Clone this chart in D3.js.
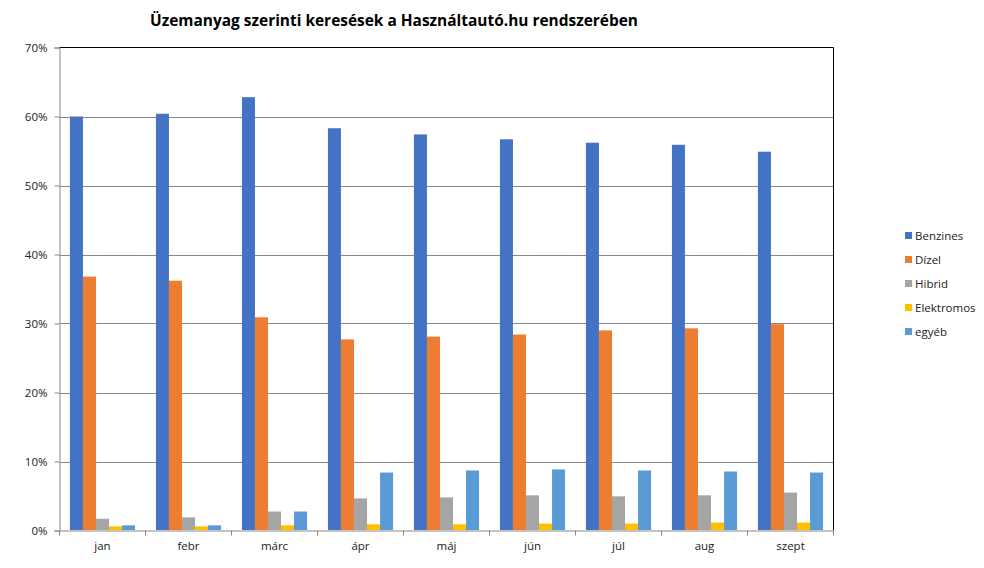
<!DOCTYPE html>
<html><head><meta charset="utf-8">
<script src="https://cdn.jsdelivr.net/npm/d3@7/dist/d3.min.js"></script>
<style>body{margin:0;background:#fff;font-family:"Open Sans","DejaVu Sans",sans-serif;}</style>
</head><body><svg id="c" width="984" height="568"></svg>
<script>
const months = ["jan","febr","márc","ápr","máj","jún","júl","aug","szept"];
const seriesNames = ["Benzines","Dízel","Hibrid","Elektromos","egyéb"];
const benzines = [60.0,60.4,62.8,58.3,57.4,56.7,56.2,55.9,54.9];
const dizel = [36.8,36.2,30.9,27.7,28.1,28.4,29.0,29.3,29.9];
const hibrid = [1.7,1.9,2.75,4.65,4.8,5.1,4.95,5.1,5.5];
const elektromos = [0.6,0.6,0.75,0.9,0.9,1.0,1.0,1.15,1.15];
const egyeb = [0.75,0.75,2.75,8.4,8.7,8.85,8.7,8.55,8.4];
const yTicks = [0,10,20,30,40,50,60,70];
const colors = ["#4472C4","#ED7D31","#A5A5A5","#FFC000","#5B9BD5"];
const values = [benzines,dizel,hibrid,elektromos,egyeb];

const svg = d3.select("#c");
const L=59.5, R=833.5, T=47.5, B=530.5;
const x = d3.scaleBand().domain(months).range([L,R]).paddingInner(0).paddingOuter(0);
const inner = d3.scaleBand().domain(seriesNames).range([0,x.bandwidth()]).paddingOuter(0.8).paddingInner(0);
const y = d3.scaleLinear().domain([0,70]).range([B,T]);

// gridlines
svg.append("g").selectAll("line").data(yTicks.slice(1,-1)).join("line")
  .attr("x1",L).attr("x2",R).attr("y1",d=>Math.round(y(d))+0.5).attr("y2",d=>Math.round(y(d))+0.5)
  .attr("stroke","#888").attr("stroke-width",1);

// bars
const g = svg.append("g");
seriesNames.forEach((s,si)=>{
  g.selectAll(null).data(months).join("rect")
    .attr("x",(m)=>x(m)+inner(s))
    .attr("width",inner.bandwidth())
    .attr("y",(m,i)=>y(values[si][i]))
    .attr("height",(m,i)=>B-0.5-y(values[si][i]))
    .attr("fill",colors[si]);
});

// border top/right
svg.append("line").attr("x1",L).attr("x2",R).attr("y1",T).attr("y2",T).attr("stroke","#000");
svg.append("line").attr("x1",R).attr("x2",R).attr("y1",T).attr("y2",B).attr("stroke","#000");

// y axis
const ya = svg.append("g").attr("transform",`translate(${L},0)`)
  .call(d3.axisLeft(y).tickValues(yTicks).tickSize(5).tickFormat(d=>d+"%"));
ya.select(".domain").attr("stroke","#888");
ya.selectAll(".tick line").attr("stroke","#888");
ya.selectAll("text").attr("font-size",11.5).attr("fill","#222").attr("font-family","Open Sans, DejaVu Sans, sans-serif").attr("dx",-4);

// x axis
const xa = svg.append("g").attr("transform",`translate(0,${B})`)
  .call(d3.axisBottom(x).tickSize(0).tickSizeOuter(0));
xa.select(".domain").attr("stroke","#888");
xa.selectAll("text").attr("font-size",11.5).attr("fill","#222").attr("dy",16).attr("font-family","Open Sans, DejaVu Sans, sans-serif");
svg.append("g").selectAll("line").data(months.concat(["_end"])).join("line")
  .attr("x1",(d,i)=>L+i*x.step()).attr("x2",(d,i)=>L+i*x.step())
  .attr("y1",B).attr("y2",B+5).attr("stroke","#888");

// title
svg.append("text").attr("x",394).attr("y",26).attr("text-anchor","middle")
  .attr("font-size",15.5).attr("font-weight","bold").attr("fill","#000")
  .attr("font-family","Open Sans, DejaVu Sans, sans-serif")
  .attr("textLength",488).attr("lengthAdjust","spacingAndGlyphs")
  .text("Üzemanyag szerinti keresések a Használtautó.hu rendszerében");

// legend
const lg = svg.append("g");
seriesNames.forEach((s,i)=>{
  const yy = 236 + i*24;
  lg.append("rect").attr("x",905).attr("y",yy-4).attr("width",7).attr("height",7).attr("fill",colors[i]);
  lg.append("text").attr("x",915).attr("y",yy+4).attr("font-size",11.5).attr("fill","#222")
    .attr("font-family","Open Sans, DejaVu Sans, sans-serif").text(s);
});
</script></body></html>
